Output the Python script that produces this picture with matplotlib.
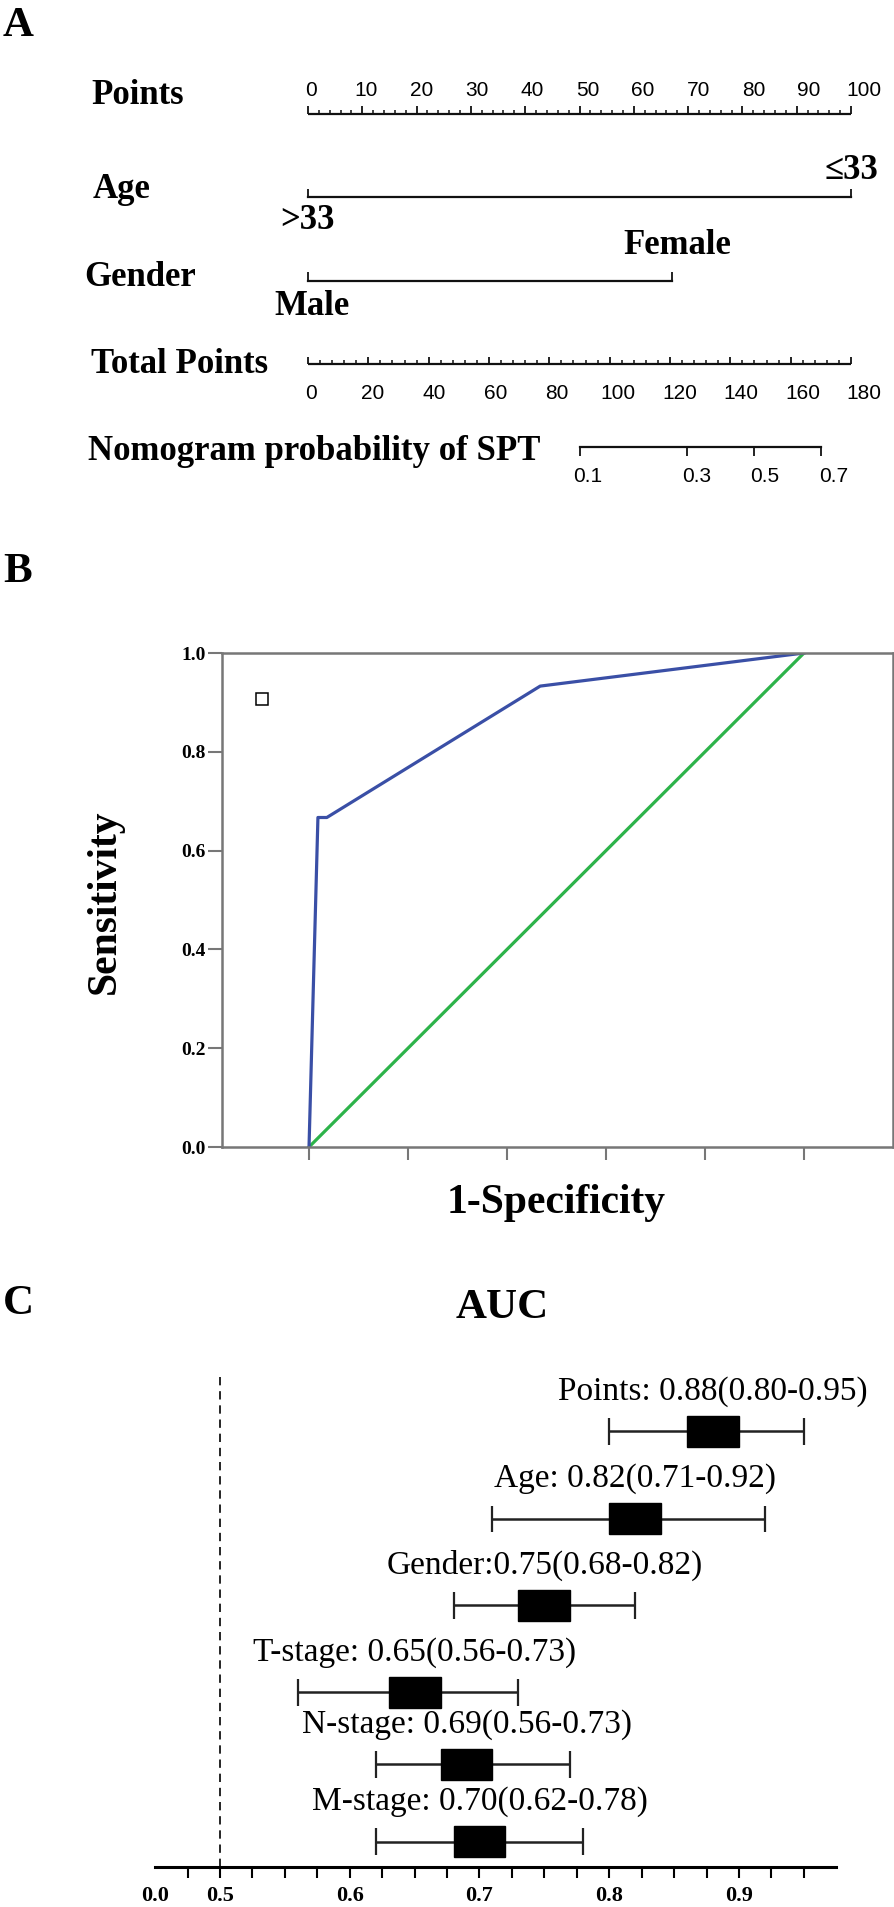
import numpy as np
import matplotlib.pyplot as plt
from matplotlib.patches import Rectangle

W, H = 894, 1907  # output size in pixels

# ---- panel A: nomogram
points_ticks = np.arange(0, 101, 10)
age_levels = ['>33', '≤33']
age_points = [0, 100]
gender_levels = ['Male', 'Female']
gender_points = [0, 67]
total_ticks = np.arange(0, 181, 20)
total_max = 180
prob_ticks = [0.1, 0.3, 0.5, 0.7]
lp_mid = 147.8     # total points where probability = 0.5
lp_slope = 0.0381  # logit change per total point

# ---- panel B: ROC curve
fpr = [0.0, 0.018, 0.036, 0.467, 1.0]
tpr = [0.0, 0.667, 0.667, 0.933, 1.0]
roc_yticks = [0.0, 0.2, 0.4, 0.6, 0.8, 1.0]

# ---- panel C: AUC forest plot
names = ['Points', 'Age', 'Gender', 'T-stage', 'N-stage', 'M-stage']
auc = [0.88, 0.82, 0.75, 0.65, 0.69, 0.70]
ci_low = [0.80, 0.71, 0.68, 0.56, 0.62, 0.62]
ci_high = [0.95, 0.92, 0.82, 0.73, 0.77, 0.78]
auc_labels = ['Points: 0.88(0.80-0.95)', 'Age: 0.82(0.71-0.92)',
              'Gender:0.75(0.68-0.82)', 'T-stage: 0.65(0.56-0.73)',
              'N-stage: 0.69(0.56-0.73)', 'M-stage: 0.70(0.62-0.78)']
auc_ticks = [0.45, 0.5, 0.6, 0.7, 0.8, 0.9]
auc_ticklabels = ['0.0', '0.5', '0.6', '0.7', '0.8', '0.9']

serif = 'Liberation Serif'
sans = ['Liberation Sans Narrow', 'Liberation Sans']

fig = plt.figure(figsize=(W / 100, H / 100), dpi=100)


def ftext(x, y, s, **kw):
    # place text by pixel position (from top-left)
    fig.text(x / W, 1 - y / H, s, **kw)


bold = dict(fontfamily=serif, fontweight='bold')

# ================= A =================
ftext(3, 26, 'A', fontsize=31, va='center', ha='left', **bold)

axA = fig.add_axes([308 / W, 1 - 447 / H, 543 / W, 333 / H])
axA.set_xlim(0, 100)
axA.set_ylim(-4, 0)
axA.axis('off')
upx = 83.25  # pixels per row unit


def py(px):
    return px / upx


def lab_x(x):
    return x * 1.018 + 0.6


lw_line = 1.6
kw_line = dict(color='#111111', clip_on=False)

# Points row
axA.plot([0, 100], [0, 0], lw=lw_line, solid_capstyle='butt', **kw_line)
minor = [v for v in np.arange(0, 101, 2) if v % 10]
axA.vlines(minor, 0, py(4), lw=1.1, **kw_line)
axA.vlines(points_ticks, 0, py(8), lw=1.3, **kw_line)
for v in points_ticks:
    axA.text(lab_x(v), py(24), str(v), ha='center', va='center',
             fontfamily=sans, fontsize=15, clip_on=False)

# Age row
axA.plot(age_points, [-1, -1], lw=lw_line, **kw_line)
axA.vlines(age_points, -1, -1 + py(8), lw=1.3, **kw_line)
axA.text(age_points[0], -1 - py(23), age_levels[0], ha='center', va='center',
         fontsize=25, **bold)
axA.text(age_points[1], -1 + py(27), age_levels[1], ha='center', va='center',
         fontsize=25, **bold)

# Gender row
axA.plot(gender_points, [-2, -2], lw=lw_line, **kw_line)
axA.vlines(gender_points, -2, -2 + py(9), lw=1.3, **kw_line)
axA.text(gender_points[0] + 0.7, -2 - py(26), gender_levels[0], ha='center',
         va='center', fontsize=25, **bold)
axA.text(gender_points[1] + 1.0, -2 + py(35), gender_levels[1], ha='center',
         va='center', fontsize=25, **bold)

# Total points row
scale = 100 / total_max
axA.plot([0, 100], [-3, -3], lw=lw_line, solid_capstyle='butt', **kw_line)
tminor = [v for v in np.arange(0, 181, 4) if v % 20]
axA.vlines(np.array(tminor) * scale, -3, -3 + py(4), lw=1.1, **kw_line)
axA.vlines(total_ticks * scale, -3, -3 + py(7), lw=1.3, **kw_line)
for v in total_ticks:
    axA.text(lab_x(v * scale), -3 - py(30), str(v), ha='center', va='center',
             fontfamily=sans, fontsize=15, clip_on=False)

# Probability row
p = np.array(prob_ticks)
px_prob = (lp_mid + np.log(p / (1 - p)) / lp_slope) * scale
axA.plot([px_prob[0], px_prob[-1]], [-4, -4], lw=lw_line, **kw_line)
axA.vlines(px_prob, -4, -4 - py(9), lw=1.3, **kw_line)
for v, x in zip(prob_ticks, px_prob):
    axA.text(lab_x(x), -4 - py(30), f'{v:.1f}', ha='center', va='center',
             fontfamily=sans, fontsize=15, clip_on=False)

row_names = ['Points', 'Age', 'Gender', 'Total Points', 'Nomogram probability of SPT']
row_label_pos = [(91, 95), (93, 190), (84, 278), (91, 365), (88, 452)]
for s, (x, y) in zip(row_names, row_label_pos):
    ftext(x, y, s, fontsize=25, ha='left', va='center', **bold)

# ================= B =================
ftext(3, 572, 'B', fontsize=31, va='center', ha='left', **bold)

axB = fig.add_axes([222 / W, 1 - 1147 / H, 671 / W, 494 / H])
axB.plot([0, 1], [0, 1], color='#2db34a', lw=2.3)
axB.plot(fpr, tpr, color='#3a4fa6', lw=2.3)
axB.plot([-0.095], [0.907], marker='s', ms=8, mfc='white', mec='black', mew=1.1)
axB.set_xlim(-0.1758, 1.1798)
axB.set_ylim(0, 1)
for sp in axB.spines.values():
    sp.set_color('#777777')
    sp.set_linewidth(1.8)
axB.set_yticks(roc_yticks)
axB.set_yticklabels([f'{v:.1f}' for v in roc_yticks], fontsize=14, **bold)
axB.set_xticks(np.arange(0, 1.01, 0.2))
axB.set_xticklabels([])
axB.tick_params(axis='y', length=10, width=1.5, color='#777777', pad=1.5)
axB.tick_params(axis='x', length=9, width=1.5, color='#777777')
ftext(105, 902, 'Sensitivity', fontsize=30, rotation=90, ha='center', va='center', **bold)
ftext(556, 1203, '1-Specificity', fontsize=30, ha='center', va='center', **bold)

# ================= C =================
ftext(3, 1304, 'C', fontsize=31, va='center', ha='left', **bold)
ftext(502, 1308, 'AUC', fontsize=31, va='center', ha='center', **bold)

ypx = 87.0  # pixels per row unit
row_y = [5.01, 4.0, 3.01, 2.01, 1.18, 0.29]
axC = fig.add_axes([0, 1 - 1867 / H, 1, 495 / H])
axC.set_xlim(0.5 - 220 / 1297.5, 0.5 + 674 / 1297.5)
axC.set_ylim(0, 495 / ypx)
for s in ['left', 'right', 'top']:
    axC.spines[s].set_visible(False)
axC.spines['bottom'].set_bounds(0.45, 0.975)
axC.spines['bottom'].set_linewidth(2.2)
axC.set_yticks([])
axC.set_xticks(auc_ticks)
axC.set_xticklabels(auc_ticklabels, fontsize=16, **bold)
axC.set_xticks(np.arange(0.475, 0.951, 0.025), minor=True)
axC.tick_params(axis='x', which='both', length=8, width=1.5, direction='out')
axC.tick_params(axis='x', which='major', pad=6)
axC.xaxis.get_major_ticks()[0].tick1line.set_visible(False)
axC.patch.set_visible(False)

axC.axvline(0.5, color='black', lw=1.2, ls=(0, (5, 3.5)))
bh = 31 / ypx
for a, lo, hi, y, s in zip(auc, ci_low, ci_high, row_y, auc_labels):
    axC.hlines(y, lo, hi, color='#222222', lw=1.8)
    axC.vlines([lo, hi], y - 0.155, y + 0.155, color='#222222', lw=1.6)
    axC.add_patch(Rectangle((a - 0.02, y - bh / 2), 0.04, bh, facecolor='black',
                            edgecolor='black', zorder=3))
    axC.text(a, y + 0.46, s, ha='center', va='center', fontfamily=serif, fontsize=24)

fig.savefig('out.png', dpi=100)
